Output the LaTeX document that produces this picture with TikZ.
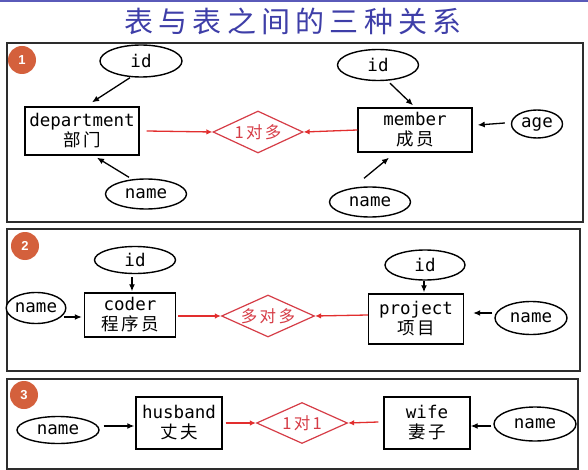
\documentclass[tikz,border=0pt]{standalone}
\usepackage{fontspec}
\setmonofont{DejaVu Sans Mono}
\newfontfamily\cjk[LetterSpace=14]{Noto Sans CJK SC}
\newfontfamily\titlefont[LetterSpace=18]{Noto Sans CJK SC}
\newfontfamily\badgefont{Liberation Sans}
\usetikzlibrary{shapes.geometric,arrows.meta}
\definecolor{ttl}{RGB}{62,62,168}
\definecolor{topbar}{RGB}{90,90,185}
\definecolor{badgec}{RGB}{212,96,60}
\definecolor{relc}{RGB}{214,60,70}
\definecolor{arrred}{RGB}{226,46,46}
\definecolor{panelc}{RGB}{45,45,45}
\tikzset{
  panel/.style={draw=panelc, line width=2pt},
  ent/.style={draw, line width=1.4pt, fill=white, inner sep=0pt, align=center,
    font=\fontsize{17.5}{20}\selectfont},
  attr/.style={draw, ellipse, line width=1.4pt, fill=white, inner sep=0pt,
    font=\fontsize{17.5}{19}\selectfont\ttfamily},
  rel/.style={draw=relc, diamond, line width=1.2pt, fill=white, inner sep=0pt,
    aspect=2.15, text=relc, font=\fontsize{16.5}{18}\selectfont\cjk},
  badge/.style={circle, fill=badgec, text=white, inner sep=0pt, minimum size=28pt,
    font=\fontsize{13}{14}\selectfont\badgefont\bfseries},
  arr/.style={-{Latex[length=7pt,width=6pt]}, line width=1.3pt},
  rarr/.style={-{Latex[length=6pt,width=5.5pt]}, line width=1.3pt, draw=arrred},
}
\begin{document}
\begin{tikzpicture}[x=1pt,y=-1pt]
\useasboundingbox (0,0) rectangle (588,470);
\fill[white] (0,0) rectangle (588,470);
\fill[topbar] (0,0) rectangle (588,2.5);
\node[text=ttl, font=\fontsize{29}{30}\selectfont\titlefont] (title) at (293,21) {表与表之间的三种关系};

% panels
\draw[panel] (7,43) rectangle (583,222);
\draw[panel] (7,229) rectangle (580,371);
\draw[panel] (7,379) rectangle (578,469);

\node[badge] (b1) at (22,60) {1};
\node[badge] (b2) at (25,246) {2};
\node[badge] (b3) at (24,395) {3};

% ---- panel 1
\node[ent, minimum width=114pt, minimum height=48pt] (dept) at (82,131) {{\ttfamily department}\\{\cjk 部门}};
\node[ent, minimum width=114pt, minimum height=44pt] (member) at (415,130) {{\ttfamily member}\\{\cjk 成员}};
\node[rel, minimum width=90pt, minimum height=42pt] (rel1) at (258,132) {1对多};
\node[attr, minimum width=82pt, minimum height=32pt] (id1) at (141,61) {id};
\node[attr, minimum width=81pt, minimum height=30pt] (name1) at (146,194) {name};
\node[attr, minimum width=81pt, minimum height=31pt] (idm) at (378,65) {id};
\node[attr, minimum width=51pt, minimum height=28pt] (age) at (537,124) {age};
\node[attr, minimum width=81pt, minimum height=30pt] (namem) at (370,202) {name};

\draw[arr] ([xshift=-11pt]id1.south) -- ([xshift=10pt,yshift=4pt]dept.north);
\draw[arr] ([xshift=-17pt,yshift=1pt]name1.north) -- ([xshift=15pt,yshift=-2pt]dept.south);
\draw[rarr] ([xshift=7pt]dept.east) -- (rel1.west);
\draw[rarr] (member.west) -- (rel1.east);
\draw[arr] ([xshift=12pt,yshift=-2pt]idm.south) -- ([xshift=-2pt,yshift=2pt]member.north);
\draw[arr] ([xshift=-6pt,yshift=1pt]age.west) -- ([xshift=5pt,yshift=5pt]member.east);
\draw[arr] ([xshift=-6pt,yshift=8pt]namem.north) -- ([xshift=-26pt,yshift=-5pt]member.south);

% ---- panel 2
\node[ent, minimum width=91pt, minimum height=44pt] (coder) at (130,315) {{\ttfamily coder}\\{\cjk 程序员}};
\node[ent, minimum width=95pt, minimum height=50pt] (project) at (416,319) {{\ttfamily project}\\{\cjk 项目}};
\node[rel, minimum width=93pt, minimum height=42pt] (rel2) at (268,316) {多对多};
\node[attr, minimum width=81pt, minimum height=27pt] (id2) at (135,260) {id};
\node[attr, minimum width=58pt, minimum height=31pt] (name2) at (36,308) {name};
\node[attr, minimum width=80pt, minimum height=30pt] (idp) at (425,265) {id};
\node[attr, minimum width=72pt, minimum height=33pt] (namep) at (531,318) {name};

\draw[arr] ([xshift=-3pt,yshift=-3pt]id2.south) -- ([xshift=2pt,yshift=1pt]coder.north);
\draw[arr] ([xshift=-3pt,yshift=-9pt]name2.east) -- ([xshift=-2pt,yshift=-2pt]coder.west);
\draw[rarr] ([xshift=2pt,yshift=-1pt]coder.east) -- (rel2.west);
\draw[rarr] ([yshift=4pt]project.west) -- (rel2.east);
\draw[arr] ([xshift=-1pt]idp.south) -- ([xshift=8pt,yshift=1pt]project.north);
\draw[arr] ([xshift=-2pt,yshift=5pt]namep.west) -- ([xshift=9pt,yshift=6pt]project.east);

% ---- panel 3
\node[ent, minimum width=86pt, minimum height=52pt] (husband) at (179,423) {{\ttfamily husband}\\{\cjk 丈夫}};
\node[ent, minimum width=86pt, minimum height=52pt] (wife) at (427,423) {{\ttfamily wife}\\{\cjk 妻子}};
\node[rel, minimum width=91pt, minimum height=41pt] (rel3) at (302,423) {1对1};
\node[attr, minimum width=82pt, minimum height=27pt] (name3) at (58,430) {name};
\node[attr, minimum width=82pt, minimum height=34pt] (namew) at (535,424) {name};

\draw[arr] ([xshift=4pt,yshift=4pt]name3.east) -- ([xshift=-1pt,yshift=-3pt]husband.west);
\draw[rarr] ([xshift=3pt]husband.east) -- (rel3.west);
\draw[rarr] ([xshift=-5pt,yshift=1pt]wife.west) -- (rel3.east);
\draw[arr] ([xshift=-2pt,yshift=-2pt]namew.west) -- ([yshift=-3pt]wife.east);
\end{tikzpicture}
\end{document}
